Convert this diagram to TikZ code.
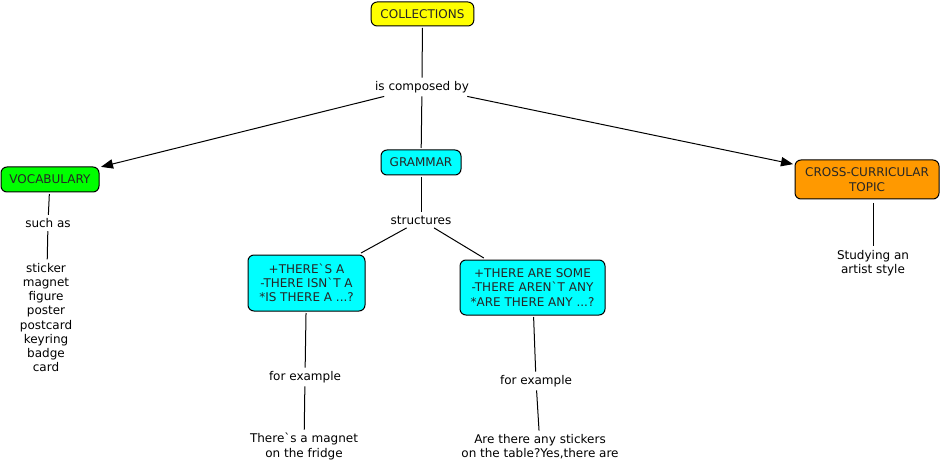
\documentclass[tikz,border=0pt]{standalone}
\usepackage{fontspec}
\setmainfont{DejaVu Sans}[Ligatures=TeXOff]
\usetikzlibrary{arrows.meta}
\definecolor{cyellow}{RGB}{255,255,0}
\definecolor{cgreen}{RGB}{0,255,0}
\definecolor{ccyan}{RGB}{0,255,255}
\definecolor{corange}{RGB}{255,153,0}
\tikzset{
  px/.style={x=0.75pt,y=-0.75pt},
  concept/.style={draw=black,line width=0.75pt,rounded corners=4.5pt,align=center,inner sep=0pt,outer sep=1.5pt,text=black!85},
  phrase/.style={align=center,inner sep=2.5pt,text=black},
  link/.style={draw=black,line width=0.75pt},
  arrowlink/.style={link,-{Triangle[length=9pt,width=7pt]}},
}
\begin{document}
\begin{tikzpicture}[px,font=\fontsize{9}{10.7}\selectfont]
\useasboundingbox (0,0) rectangle (941,470);
\node[concept,fill=cyellow,minimum width=77pt,minimum height=18pt] (coll) at (422.5,14) {COLLECTIONS};
\node[phrase] (comp) at (422,87) {is composed by};
\node[concept,fill=ccyan,minimum width=60pt,minimum height=18.75pt] (gram) at (421,162.5) {GRAMMAR};
\node[concept,fill=cgreen,minimum width=73.5pt,minimum height=18.75pt] (voc) at (50,179.5) {VOCABULARY};
\node[concept,fill=corange,minimum width=108pt,minimum height=29.25pt] (cross) at (867,179.5) {CROSS-CURRICULAR\\TOPIC};
\node[phrase] (such) at (48,223) {such as};
\node[phrase] (list) at (46,317.5) {sticker\\magnet\\figure\\poster\\postcard\\keyring\\badge\\card};
\node[phrase] (struct) at (421,220) {structures};
\node[concept,fill=ccyan,minimum width=87.75pt,minimum height=42pt] (bl) at (306.5,283) {+THERE`S A\\-THERE ISN`T A\\*IS THERE A ...?};
\node[concept,fill=ccyan,minimum width=108.75pt,minimum height=41.25pt] (br) at (532.5,287.5) {+THERE ARE SOME\\-THERE AREN`T ANY\\*ARE THERE ANY ...?};
\node[phrase] (fe1) at (305,377) {for example};
\node[phrase] (fe2) at (536,381) {for example};
\node[phrase] (ex1) at (304,446.5) {There`s a magnet\\on the fridge};
\node[phrase] (ex2) at (540,446.5) {Are there any stickers\\on the table?Yes,there are};
\node[phrase] (stud) at (873,263) {Studying an\\artist style};

\draw[link] (coll) -- (comp);
\draw[link] (comp) -- (gram);
\draw[arrowlink] (comp) -- (voc);
\draw[arrowlink] (comp) -- (cross);
\draw[link] (voc) -- (such);
\draw[link] (such) -- (list);
\draw[link] (gram) -- (struct);
\draw[link] (struct) -- (bl);
\draw[link] (struct) -- (br);
\draw[link] (bl) -- (fe1);
\draw[link] (fe1) -- (ex1);
\draw[link] (br) -- (fe2);
\draw[link] (fe2) -- (ex2);
\draw[link] (stud.north |- cross.south) ++(0,2) -- (stud);
\end{tikzpicture}
\end{document}
